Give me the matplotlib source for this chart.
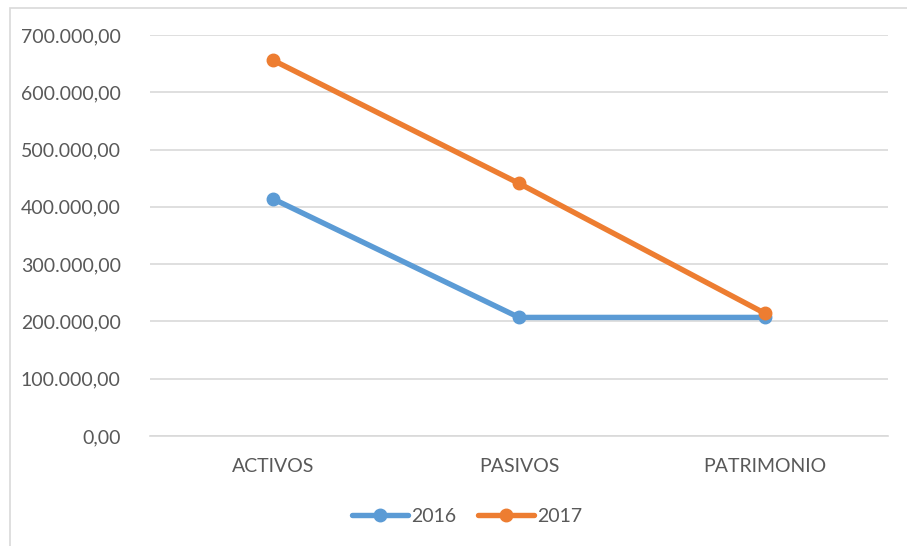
import matplotlib.pyplot as plt
from matplotlib.patches import Rectangle
from matplotlib.ticker import FuncFormatter

categories = ['ACTIVOS', 'PASIVOS', 'PATRIMONIO']
values_2016 = [414000, 207000, 207000]
values_2017 = [656000, 441000, 214000]
series_names = ['2016', '2017']
colors = ['#5B9BD5', '#ED7D31']

plt.rcParams['font.family'] = ['Lato', 'DejaVu Sans']

fig = plt.figure(figsize=(9.07, 5.46), dpi=100)
W, H = 907, 546
ax = fig.add_axes([150 / W, 1 - 436 / H, 738 / W, 401 / H])

# chart border (light gray frame), right and bottom edges run off the image
fig.patches.append(Rectangle((10 / W, -0.1), 1.2, 1.1 - 8 / H, transform=fig.transFigure,
                             fill=False, edgecolor='#D9D9D9', linewidth=1.2))

x = range(len(categories))
for vals, name, c in zip([values_2016, values_2017], series_names, colors):
    ax.plot(x, vals, color=c, linewidth=3.9, marker='o', markersize=9,
            label=name, solid_capstyle='round')

ax.set_xlim(-0.5, 2.5)
ax.set_ylim(0, 700000)
ax.set_yticks(range(0, 700001, 100000))
ax.yaxis.set_major_formatter(FuncFormatter(
    lambda v, p: f'{v:,.2f}'.replace(',', 'X').replace('.', ',').replace('X', '.')))
ax.set_xticks(list(x))
ax.set_xticklabels(categories)
ax.grid(axis='y', color='#D9D9D9', linewidth=1.2)
ax.set_axisbelow(True)
for s in ['top', 'right', 'left']:
    ax.spines[s].set_visible(False)
ax.spines['bottom'].set_color('#D9D9D9')
ax.spines['bottom'].set_linewidth(1.2)
ax.tick_params(axis='both', length=0, labelsize=14, labelcolor='#595959')
ax.tick_params(axis='y', pad=21)
ax.tick_params(axis='x', pad=16)

leg = fig.legend(loc='center', bbox_to_anchor=(467 / W, 1 - 516 / H), ncol=2,
                 frameon=False, fontsize=14, handlelength=2.9, columnspacing=1.1,
                 handletextpad=0.15)
for t in leg.get_texts():
    t.set_color('#595959')

fig.savefig('out.png', dpi=100)
